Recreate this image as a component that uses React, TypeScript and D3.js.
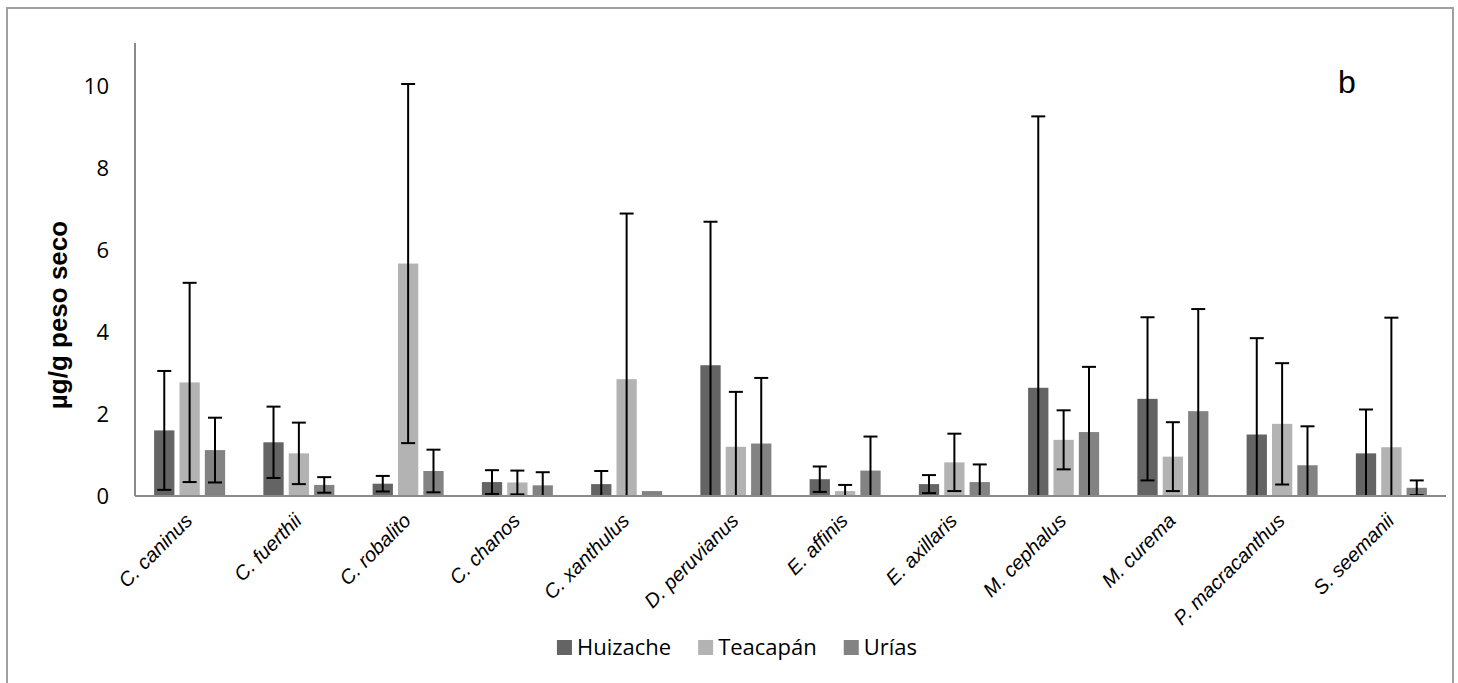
import React, { useEffect, useRef } from "react";
import * as d3 from "d3";

// Species on the category axis
const species = [
  "C. caninus",
  "C. fuerthii",
  "C. robalito",
  "C. chanos",
  "C. xanthulus",
  "D. peruvianus",
  "E. affinis",
  "E. axillaris",
  "M. cephalus",
  "M. curema",
  "P. macracanthus",
  "S. seemanii",
];

// Sampling sites (series) and their fills
const sites = ["Huizache", "Teacapán", "Urías"];
const siteColors = ["#646464", "#b3b3b3", "#838383"];

// Mean concentration (µg/g dry weight) per species, one array per site
const huizacheMean = [1.6, 1.31, 0.3, 0.34, 0.29, 3.19, 0.41, 0.29, 2.64, 2.37, 1.5, 1.04];
const teacapanMean = [2.77, 1.04, 5.67, 0.33, 2.85, 1.2, 0.12, 0.82, 1.37, 0.96, 1.76, 1.19];
const uriasMean = [1.12, 0.27, 0.61, 0.26, 0.12, 1.28, 0.62, 0.34, 1.56, 2.07, 0.75, 0.2];

// Standard deviations (null = no error bar)
const huizacheSd = [1.45, 0.87, 0.19, 0.29, 0.32, 3.5, 0.31, 0.22, 6.62, 1.99, 2.35, 1.07];
const teacapanSd = [2.43, 0.75, 4.38, 0.29, 4.04, 1.34, 0.15, 0.7, 0.72, 0.84, 1.48, 3.16];
const uriasSd: (number | null)[] = [0.79, 0.19, 0.52, 0.32, null, 1.6, 0.83, 0.43, 1.59, 2.49, 0.95, 0.18];

const yTicks = [0, 2, 4, 6, 8, 10];
const yMax = 11.05;

const W = 1458;
const H = 683;

export default function App() {
  const ref = useRef<SVGSVGElement>(null);

  useEffect(() => {
    const svg = d3.select(ref.current);
    svg.selectAll("*").remove();

    const means = [huizacheMean, teacapanMean, uriasMean];
    const sds = [huizacheSd, teacapanSd, uriasSd];

    const plotLeft = 135;
    const plotRight = 1446;
    const plotBottom = 496;
    const plotTop = 43;

    const x0 = d3
      .scaleBand<string>()
      .domain(species)
      .range([plotLeft, plotRight])
      .paddingInner(0.35)
      .paddingOuter(0.175);
    const x1 = d3
      .scaleBand<string>()
      .domain(sites)
      .range([0, x0.bandwidth()])
      .paddingInner(0.2);
    const y = d3.scaleLinear().domain([0, yMax]).range([plotBottom, plotTop]);

    // outer chart frame
    const frame = svg.append("g").attr("stroke", "#a0a0a0").attr("stroke-width", 2).attr("fill", "none");
    frame.append("path").attr("d", `M7,${H} V8 H1453 V${H}`);

    // bars
    sites.forEach((site, si) => {
      const g = svg.append("g").attr("fill", siteColors[si]);
      g.selectAll("rect")
        .data(species)
        .join("rect")
        .attr("x", (d) => (x0(d) as number) + (x1(site) as number))
        .attr("width", x1.bandwidth())
        .attr("y", (_d, i) => y(means[si][i]))
        .attr("height", (_d, i) => y(0) - y(means[si][i]));
    });

    // error bars (mean ± SD, clipped at the axis)
    const eb = svg.append("g").attr("stroke", "#000").attr("stroke-width", 2).attr("fill", "none");
    sites.forEach((site, si) => {
      species.forEach((sp, i) => {
        const sd = sds[si][i];
        if (sd == null) return;
        const cx = (x0(sp) as number) + (x1(site) as number) + x1.bandwidth() / 2;
        const hi = means[si][i] + sd;
        const lo = means[si][i] - sd;
        const yHi = y(hi);
        const yLo = y(Math.max(0, lo));
        eb.append("line").attr("x1", cx).attr("x2", cx).attr("y1", yHi).attr("y2", yLo);
        eb.append("line").attr("x1", cx - 7).attr("x2", cx + 7).attr("y1", yHi).attr("y2", yHi);
        if (lo > 0) {
          eb.append("line").attr("x1", cx - 7).attr("x2", cx + 7).attr("y1", yLo).attr("y2", yLo);
        }
      });
    });

    // axis lines
    const ax = svg.append("g").attr("stroke", "#8a8a8a").attr("stroke-width", 2);
    ax.append("line").attr("x1", plotLeft).attr("x2", plotLeft).attr("y1", plotTop).attr("y2", plotBottom);
    ax.append("line").attr("x1", plotLeft).attr("x2", plotRight).attr("y1", plotBottom).attr("y2", plotBottom);

    // y tick labels
    svg
      .append("g")
      .attr("font-family", "'Open Sans', sans-serif")
      .attr("font-size", 22)
      .attr("fill", "#000")
      .attr("text-anchor", "end")
      .selectAll("text")
      .data(yTicks)
      .join("text")
      .attr("x", 109)
      .attr("y", (d) => y(d))
      .attr("dy", "0.36em")
      .text((d) => String(d));

    // y axis title
    svg
      .append("text")
      .attr("transform", `translate(67,315) rotate(-90)`)
      .attr("text-anchor", "middle")
      .attr("font-family", "'Liberation Sans', Arial, sans-serif")
      .attr("font-weight", "bold")
      .attr("font-size", 26)
      .attr("fill", "#000")
      .text("µg/g  peso seco");

    // category labels
    svg
      .append("g")
      .attr("font-family", "'Liberation Sans', Arial, sans-serif")
      .attr("font-style", "italic")
      .attr("font-size", 20)
      .attr("fill", "#000")
      .attr("text-anchor", "end")
      .selectAll("text")
      .data(species)
      .join("text")
      .attr("transform", (d) => {
        const cx = (x0(d) as number) + x0.bandwidth() / 2 + 4;
        return `translate(${cx},522) rotate(-45)`;
      })
      .text((d) => d);

    // panel letter
    svg
      .append("text")
      .attr("x", 1338)
      .attr("y", 93)
      .attr("font-family", "'Liberation Sans', Arial, sans-serif")
      .attr("font-size", 32)
      .attr("fill", "#000")
      .text("b");

    // legend
    const lg = svg.append("g").attr("font-family", "'Open Sans', sans-serif").attr("font-size", 22);
    const items = sites.map((s, i) => {
      const g = lg.append("g");
      g.append("rect").attr("width", 15).attr("height", 15).attr("y", -15).attr("fill", siteColors[i]);
      const t = g.append("text").attr("x", 20).attr("fill", "#000").text(s);
      const tw = (t.node() as SVGTextElement).getComputedTextLength();
      return { g, w: 20 + tw };
    });
    const gap = 27;
    const total = items.reduce((a, b) => a + b.w, 0) + gap * (items.length - 1);
    let cursor = 737 - total / 2;
    items.forEach((it) => {
      it.g.attr("transform", `translate(${cursor},655)`);
      cursor += it.w + gap;
    });
  }, []);

  return (
    <svg
      ref={ref}
      width={W}
      height={H}
      style={{ position: "absolute", left: 0, top: 0, background: "#fff" }}
    />
  );
}
